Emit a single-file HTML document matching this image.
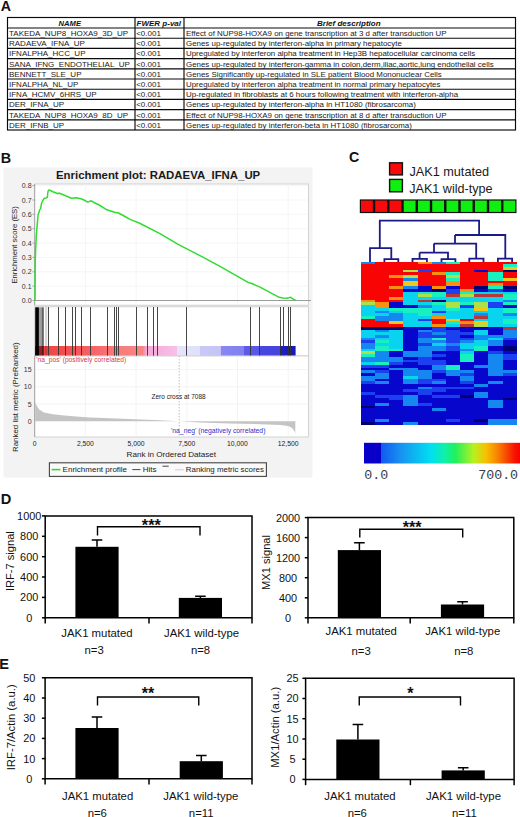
<!DOCTYPE html>
<html><head><meta charset="utf-8"><title>Figure</title>
<style>
html,body{margin:0;padding:0;background:#fff;}
body{width:520px;height:817px;overflow:hidden;}
svg{display:block;font-family:"Liberation Sans", sans-serif;}
</style></head>
<body>
<svg width="520" height="817" viewBox="0 0 520 817">
<rect x="0" y="0" width="520" height="817" fill="#fff"/>
<text x="0.85" y="11.0" font-size="14.2" font-weight="bold" fill="#111">A</text>
<g stroke="#0a0a0a" stroke-width="1.15" fill="none">
<rect x="7.5" y="17.5" width="508.0" height="112.5"/>
<line x1="7.5" y1="28.0" x2="515.5" y2="28.0"/>
<line x1="7.5" y1="38.2" x2="515.5" y2="38.2"/>
<line x1="7.5" y1="48.4" x2="515.5" y2="48.4"/>
<line x1="7.5" y1="58.6" x2="515.5" y2="58.6"/>
<line x1="7.5" y1="68.8" x2="515.5" y2="68.8"/>
<line x1="7.5" y1="79.0" x2="515.5" y2="79.0"/>
<line x1="7.5" y1="89.2" x2="515.5" y2="89.2"/>
<line x1="7.5" y1="99.4" x2="515.5" y2="99.4"/>
<line x1="7.5" y1="109.6" x2="515.5" y2="109.6"/>
<line x1="7.5" y1="119.8" x2="515.5" y2="119.8"/>
<line x1="135" y1="17.5" x2="135" y2="130.0"/>
<line x1="184" y1="17.5" x2="184" y2="130.0"/>
</g>
<g font-size="8" font-weight="bold" font-style="italic" fill="#111">
<text x="69.8" y="25.7" text-anchor="middle" font-size="7.6">NAME</text>
<text x="136.6" y="25.7">FWER p-val</text>
<text x="348.8" y="25.7" text-anchor="middle">Brief description</text>
</g>
<g font-size="8" fill="#1a1a1a">
<text x="9" y="36.0">TAKEDA_NUP8_HOXA9_3D_UP</text>
<text x="136.2" y="36.0">&lt;0.001</text>
<text x="186" y="36.0" font-size="7.92">Effect of NUP98-HOXA9 on gene transcription at 3 d after transduction UP</text>
<text x="9" y="46.2">RADAEVA_IFNA_UP</text>
<text x="136.2" y="46.2">&lt;0.001</text>
<text x="186" y="46.2" font-size="7.92">Genes up-regulated by interferon-alpha in primary hepatocyte</text>
<text x="9" y="56.4">IFNALPHA_HCC_UP</text>
<text x="136.2" y="56.4">&lt;0.001</text>
<text x="186" y="56.4" font-size="7.92">Upregulated by interferon alpha treatment in Hep3B hepatocellular carcinoma cells</text>
<text x="9" y="66.6">SANA_IFNG_ENDOTHELIAL_UP</text>
<text x="136.2" y="66.6">&lt;0.001</text>
<text x="186" y="66.6" font-size="7.92">Genes up-regulated by interferon-gamma in colon,derm,iliac,aortic,lung endothelial cells</text>
<text x="9" y="76.8">BENNETT_SLE_UP</text>
<text x="136.2" y="76.8">&lt;0.001</text>
<text x="186" y="76.8" font-size="7.92">Genes Significantly up-regulated in SLE patient Blood Mononuclear Cells</text>
<text x="9" y="87.0">IFNALPHA_NL_UP</text>
<text x="136.2" y="87.0">&lt;0.001</text>
<text x="186" y="87.0" font-size="7.92">Upregulated by interferon alpha treatment in normal primary hepatocytes</text>
<text x="9" y="97.2">IFNA_HCMV_6HRS_UP</text>
<text x="136.2" y="97.2">&lt;0.001</text>
<text x="186" y="97.2" font-size="7.92">Up-regulated in fibroblasts at 6 hours following treatment with interferon-alpha</text>
<text x="9" y="107.4">DER_IFNA_UP</text>
<text x="136.2" y="107.4">&lt;0.001</text>
<text x="186" y="107.4" font-size="7.92">Genes up-regulated by interferon-alpha in HT1080 (fibrosarcoma)</text>
<text x="9" y="117.6">TAKEDA_NUP8_HOXA9_8D_UP</text>
<text x="136.2" y="117.6">&lt;0.001</text>
<text x="186" y="117.6" font-size="7.92">Effect of NUP98-HOXA9 on gene transcription at 8 d after transduction UP</text>
<text x="9" y="127.8">DER_IFNB_UP</text>
<text x="136.2" y="127.8">&lt;0.001</text>
<text x="186" y="127.8" font-size="7.92">Genes up-regulated by interferon-beta in HT1080 (fibrosarcoma)</text>
</g>
<text x="0.7" y="162.5" font-size="14.4" font-weight="bold" fill="#111">B</text>
<rect x="3.5" y="167.5" width="309" height="310" fill="#f3f3f3"/>
<text x="56" y="178.8" font-size="11.4" font-weight="bold" fill="#1a1a1a">Enrichment plot: RADAEVA_IFNA_UP</text>
<rect x="34.7" y="184.0" width="273.7" height="121.2" fill="#fff" stroke="#c8c8c8" stroke-width="0.8"/>
<g stroke="#f2f2f2" stroke-width="0.8"><line x1="85.4" y1="184.0" x2="85.4" y2="305.2"/><line x1="136.1" y1="184.0" x2="136.1" y2="305.2"/><line x1="186.8" y1="184.0" x2="186.8" y2="305.2"/><line x1="237.5" y1="184.0" x2="237.5" y2="305.2"/><line x1="288.2" y1="184.0" x2="288.2" y2="305.2"/><line x1="34.7" y1="286.1" x2="308.4" y2="286.1"/><line x1="34.7" y1="271.8" x2="308.4" y2="271.8"/><line x1="34.7" y1="257.4" x2="308.4" y2="257.4"/><line x1="34.7" y1="243.1" x2="308.4" y2="243.1"/><line x1="34.7" y1="228.7" x2="308.4" y2="228.7"/><line x1="34.7" y1="214.3" x2="308.4" y2="214.3"/><line x1="34.7" y1="200.0" x2="308.4" y2="200.0"/><line x1="34.7" y1="185.6" x2="308.4" y2="185.6"/></g>
<line x1="34.7" y1="300.5" x2="311" y2="300.5" stroke="#909090" stroke-width="0.9"/>
<line x1="34.7" y1="184.0" x2="34.7" y2="305.2" stroke="#a0a0a0" stroke-width="0.9"/>
<g font-size="7" fill="#333" text-anchor="end">
<text x="31.6" y="303.0">0.0</text>
<text x="31.6" y="288.6">0.1</text>
<text x="31.6" y="274.3">0.2</text>
<text x="31.6" y="259.9">0.3</text>
<text x="31.6" y="245.6">0.4</text>
<text x="31.6" y="231.2">0.5</text>
<text x="31.6" y="216.8">0.6</text>
<text x="31.6" y="202.5">0.7</text>
<text x="31.6" y="188.1">0.8</text>
</g>
<g stroke="#888" stroke-width="0.7">
<line x1="32.4" y1="300.5" x2="34.7" y2="300.5"/>
<line x1="32.4" y1="286.1" x2="34.7" y2="286.1"/>
<line x1="32.4" y1="271.8" x2="34.7" y2="271.8"/>
<line x1="32.4" y1="257.4" x2="34.7" y2="257.4"/>
<line x1="32.4" y1="243.1" x2="34.7" y2="243.1"/>
<line x1="32.4" y1="228.7" x2="34.7" y2="228.7"/>
<line x1="32.4" y1="214.3" x2="34.7" y2="214.3"/>
<line x1="32.4" y1="200.0" x2="34.7" y2="200.0"/>
<line x1="32.4" y1="185.6" x2="34.7" y2="185.6"/>
</g>
<text transform="translate(16.8,244.9) rotate(-90)" font-size="7.7" fill="#222" text-anchor="middle">Enrichment score (ES)</text>
<path d="M35.0,300.5 L35.2,262.0 L35.6,250.0 L36.3,236.0 L37.2,224.6 L38.2,214.0 L38.9,212.7 L39.7,209.7 L40.6,208.8 L41.5,203.5 L42.5,201.2 L43.2,199.8 L44.4,198.3 L46.0,198.0 L47.3,197.3 L47.9,192.0 L48.4,190.4 L49.2,190.0 L53.0,191.8 L57.9,193.8 L58.8,193.0 L62.0,194.2 L65.6,195.8 L68.0,196.8 L71.3,198.3 L76.2,197.7 L81.0,198.8 L84.0,200.0 L87.7,202.1 L91.2,200.8 L95.0,203.0 L99.2,205.0 L106.9,209.8 L114.6,212.3 L118.5,213.0 L125.0,216.5 L130.0,219.4 L139.2,223.0 L160.0,233.7 L177.7,244.2 L200.0,255.6 L220.0,266.3 L248.5,282.7 L251.3,283.3 L260.0,287.1 L279.2,297.3 L283.0,298.0 L287.0,298.3 L289.0,297.8 L290.8,297.3 L293.0,299.0 L295.6,300.4" fill="none" stroke="#30dc30" stroke-width="1.5" stroke-linejoin="round"/>
<rect x="34.7" y="306.8" width="273.7" height="49.2" fill="#fff" stroke="#c8c8c8" stroke-width="0.8"/>
<defs><linearGradient id="bandg" x1="0" x2="1" y1="0" y2="0"><stop offset="0.0000" stop-color="#c83040"/><stop offset="0.0115" stop-color="#e03a3a"/><stop offset="0.0384" stop-color="#f04444"/><stop offset="0.0959" stop-color="#f24c4c"/><stop offset="0.1727" stop-color="#f45a5a"/><stop offset="0.2494" stop-color="#f66a6e"/><stop offset="0.3185" stop-color="#f87c7c"/><stop offset="0.4144" stop-color="#f88484"/><stop offset="0.4259" stop-color="#f4a8d8"/><stop offset="0.5449" stop-color="#f8c0e8"/><stop offset="0.5460" stop-color="#e4e4fa"/><stop offset="0.6332" stop-color="#e0e0fa"/><stop offset="0.6335" stop-color="#c8c8f8"/><stop offset="0.7118" stop-color="#c4c4f6"/><stop offset="0.7122" stop-color="#8888f0"/><stop offset="0.8001" stop-color="#8080f0"/><stop offset="0.8005" stop-color="#5c5ce8"/><stop offset="0.8615" stop-color="#5858e6"/><stop offset="0.8619" stop-color="#4848e0"/><stop offset="0.9386" stop-color="#4444de"/><stop offset="0.9390" stop-color="#2020c0"/><stop offset="1.0000" stop-color="#1818b8"/></linearGradient></defs>
<rect x="35.0" y="346" width="260.6" height="9.7" fill="url(#bandg)"/>
<g stroke="#333" stroke-opacity="0.9" stroke-width="1" shape-rendering="crispEdges"><line x1="48.5" y1="307.3" x2="48.5" y2="355.7"/><line x1="58.5" y1="307.3" x2="58.5" y2="355.7"/><line x1="65.5" y1="307.3" x2="65.5" y2="355.7"/><line x1="72.5" y1="307.3" x2="72.5" y2="355.7"/><line x1="75.5" y1="307.3" x2="75.5" y2="355.7"/><line x1="81.5" y1="307.3" x2="81.5" y2="355.7"/><line x1="90.5" y1="307.3" x2="90.5" y2="355.7"/><line x1="107.5" y1="307.3" x2="107.5" y2="355.7"/><line x1="114.5" y1="307.3" x2="114.5" y2="355.7"/><line x1="116.5" y1="307.3" x2="116.5" y2="355.7"/><line x1="118.5" y1="307.3" x2="118.5" y2="355.7"/><line x1="136.5" y1="307.3" x2="136.5" y2="355.7"/><line x1="147.5" y1="307.3" x2="147.5" y2="355.7"/><line x1="153.5" y1="307.3" x2="153.5" y2="355.7"/><line x1="157.5" y1="307.3" x2="157.5" y2="355.7"/><line x1="186.5" y1="307.3" x2="186.5" y2="355.7"/><line x1="250.5" y1="307.3" x2="250.5" y2="355.7"/><line x1="259.5" y1="307.3" x2="259.5" y2="355.7"/><line x1="280.5" y1="307.3" x2="280.5" y2="355.7"/><line x1="283.5" y1="307.3" x2="283.5" y2="355.7"/><line x1="288.5" y1="307.3" x2="288.5" y2="355.7"/><line x1="290.5" y1="307.3" x2="290.5" y2="355.7"/></g>
<rect x="35.2" y="307.3" width="3.7" height="48.4" fill="#000"/>
<rect x="38.9" y="307.3" width="2.9" height="48.4" fill="#000" fill-opacity="0.38"/>
<rect x="41.8" y="307.3" width="2.0" height="48.4" fill="#000" fill-opacity="0.62"/>
<rect x="45" y="307.3" width="2.3" height="48.4" fill="#000" fill-opacity="0.15"/>
<rect x="34.7" y="356.0" width="273.7" height="81.0" fill="#fff" stroke="#c8c8c8" stroke-width="0.8"/>
<g stroke="#f0f0f0" stroke-width="0.8"><line x1="85.4" y1="356.0" x2="85.4" y2="437.0"/><line x1="136.1" y1="356.0" x2="136.1" y2="437.0"/><line x1="186.8" y1="356.0" x2="186.8" y2="437.0"/><line x1="237.5" y1="356.0" x2="237.5" y2="437.0"/><line x1="288.2" y1="356.0" x2="288.2" y2="437.0"/><line x1="34.7" y1="404.0" x2="308.4" y2="404.0"/><line x1="34.7" y1="386.8" x2="308.4" y2="386.8"/><line x1="34.7" y1="369.6" x2="308.4" y2="369.6"/></g>
<line x1="34.7" y1="356.0" x2="34.7" y2="437.0" stroke="#a0a0a0" stroke-width="0.9"/>
<path d="M35.2,421.2 L35.2,402.3 L35.8,403.6 L36.9,406.1 L39.2,409.6 L43.8,412.5 L53,414.2 L64.6,415.6 L76.1,416.5 L90,417.5 L110,418.3 L135,419.2 L160,420.3 L179.2,421.2 Z" fill="#c4c4c4"/>
<path d="M179.2,421.2 L200,422.5 L230,423.4 L260,424.2 L280,425.1 L288,426.0 L291,427.2 L293,429 L294.5,431.5 L295.2,433.5 L295.4,421.2 Z" fill="#c4c4c4"/>
<line x1="179.2" y1="356.0" x2="179.2" y2="437.0" stroke="#b0b0b0" stroke-width="0.8" stroke-dasharray="1.5,1.5"/>
<g font-size="7" fill="#333" text-anchor="end">
<text x="31.6" y="372.1">15</text>
<text x="31.6" y="389.3">10</text>
<text x="31.6" y="406.5">5</text>
<text x="31.6" y="423.7">0</text>
</g>
<text x="36.3" y="362.3" font-size="6.7" fill="#e03838">'na_pos' (positively correlated)</text>
<text x="151.5" y="398.8" font-size="6.5" fill="#222">Zero cross at 7088</text>
<text x="171" y="433.3" font-size="6.8" fill="#3030c8">'na_neg' (negatively correlated)</text>
<text transform="translate(18.2,397.2) rotate(-90)" font-size="7.9" fill="#222" text-anchor="middle">Ranked list metric (PreRanked)</text>
<g font-size="6.8" fill="#222" text-anchor="middle">
<text x="34.7" y="445.8">0</text>
<text x="85.4" y="445.8">2,500</text>
<text x="136.1" y="445.8">5,000</text>
<text x="186.8" y="445.8">7,500</text>
<text x="237.5" y="445.8">10,000</text>
<text x="288.2" y="445.8">12,500</text>
</g>
<text x="171.3" y="456.5" font-size="8.1" fill="#222" text-anchor="middle">Rank in Ordered Dataset</text>
<rect x="49.4" y="462.8" width="217" height="13.6" fill="#fafafa" stroke="#444" stroke-width="1.1"/>
<line x1="51.6" y1="469.6" x2="60.4" y2="469.6" stroke="#30dc30" stroke-width="1.6"/>
<text x="62.6" y="472.3" font-size="8" fill="#222">Enrichment profile</text>
<line x1="132.3" y1="469.6" x2="140.4" y2="469.6" stroke="#333" stroke-width="0.9"/>
<text x="142.7" y="472.3" font-size="8" fill="#222">Hits</text>
<line x1="162.5" y1="466.2" x2="168.7" y2="466.2" stroke="#333" stroke-width="0.9"/>
<line x1="175" y1="469.8" x2="183.7" y2="469.8" stroke="#ccc" stroke-width="1"/>
<text x="185.8" y="472.3" font-size="7.9" fill="#222">Ranking metric scores</text>
<text x="349.1" y="162.3" font-size="14.2" font-weight="bold" fill="#111">C</text>
<rect x="389.6" y="162.8" width="12.8" height="12.1" fill="#f80a0a" stroke="#111" stroke-width="1.4"/>
<rect x="389.6" y="179.4" width="12.8" height="12.4" fill="#10f010" stroke="#111" stroke-width="1.4"/>
<text x="409.4" y="175.7" font-size="12.7" fill="#1a1a1a">JAK1 mutated</text>
<text x="409.2" y="192.8" font-size="12.6" fill="#1a1a1a">JAK1 wild-type</text>
<rect x="359.8" y="199.4" width="156.7" height="13.7" fill="#111"/>
<rect x="361.00" y="200.6" width="11.85" height="11.3" fill="#f80a0a"/>
<rect x="375.25" y="200.6" width="11.85" height="11.3" fill="#f80a0a"/>
<rect x="389.49" y="200.6" width="11.85" height="11.3" fill="#f80a0a"/>
<rect x="403.74" y="200.6" width="11.85" height="11.3" fill="#10f010"/>
<rect x="417.98" y="200.6" width="11.85" height="11.3" fill="#10f010"/>
<rect x="432.22" y="200.6" width="11.85" height="11.3" fill="#10f010"/>
<rect x="446.47" y="200.6" width="11.85" height="11.3" fill="#10f010"/>
<rect x="460.71" y="200.6" width="11.85" height="11.3" fill="#10f010"/>
<rect x="474.96" y="200.6" width="11.85" height="11.3" fill="#10f010"/>
<rect x="489.20" y="200.6" width="11.85" height="11.3" fill="#10f010"/>
<rect x="503.45" y="200.6" width="11.85" height="11.3" fill="#10f010"/>
<g fill="none" stroke="#1a1a88" stroke-width="1.8"><path d="M379.8,248.2 V220.7 H479.1 V235"/><path d="M370,262 V248.2 H391.3 V259.1"/><path d="M384.4,262 V259.1 H398.3 V262"/><path d="M455,235 H505.3 V258.6"/><path d="M455,235 V243.6"/><path d="M434,243.6 H476.2 V258.6"/><path d="M434,243.6 V252.6"/><path d="M419.6,252.6 H448 V259.1"/><path d="M419.6,252.6 V258.8"/><path d="M412.5,262 V258.8 H426.9 V262"/><path d="M441.5,262 V259.1 H455.4 V262"/><path d="M469.3,262 V258.6 H483.5 V262"/><path d="M497.9,262 V258.6 H512.1 V262"/></g>
<g shape-rendering="crispEdges"><rect x="361.00" y="261.60" width="14.45" height="3.02" fill="#1488f0"/><rect x="375.15" y="261.60" width="42.76" height="3.02" fill="#f80404"/><rect x="417.62" y="261.60" width="14.45" height="3.02" fill="#f89010"/><rect x="431.77" y="261.60" width="14.45" height="3.02" fill="#1488f0"/><rect x="445.93" y="261.60" width="14.45" height="3.02" fill="#18f0c0"/><rect x="460.08" y="261.60" width="56.92" height="3.02" fill="#f80404"/><rect x="361.00" y="264.32" width="141.85" height="3.02" fill="#f80404"/><rect x="502.55" y="264.32" width="14.45" height="3.02" fill="#18f0c0"/><rect x="361.00" y="267.04" width="141.85" height="3.02" fill="#f80404"/><rect x="502.55" y="267.04" width="14.45" height="3.02" fill="#f0c818"/><rect x="361.00" y="269.76" width="42.76" height="3.02" fill="#f80404"/><rect x="403.46" y="269.76" width="14.45" height="3.02" fill="#b0e048"/><rect x="417.62" y="269.76" width="14.45" height="3.02" fill="#1c40f0"/><rect x="431.77" y="269.76" width="42.76" height="3.02" fill="#f80404"/><rect x="474.24" y="269.76" width="14.45" height="3.02" fill="#0606cc"/><rect x="488.39" y="269.76" width="14.45" height="3.02" fill="#f80404"/><rect x="502.55" y="269.76" width="14.45" height="3.02" fill="#000070"/><rect x="361.00" y="272.48" width="71.07" height="3.02" fill="#f80404"/><rect x="431.77" y="272.48" width="14.45" height="3.02" fill="#f89010"/><rect x="445.93" y="272.48" width="14.45" height="3.02" fill="#18f0c0"/><rect x="460.08" y="272.48" width="28.61" height="3.02" fill="#f80404"/><rect x="488.39" y="272.48" width="14.45" height="3.02" fill="#18f0c0"/><rect x="502.55" y="272.48" width="14.45" height="3.02" fill="#f80404"/><rect x="361.00" y="275.20" width="28.61" height="3.02" fill="#f80404"/><rect x="389.31" y="275.20" width="14.45" height="3.02" fill="#f89010"/><rect x="403.46" y="275.20" width="14.45" height="3.02" fill="#b0e048"/><rect x="417.62" y="275.20" width="28.61" height="3.02" fill="#f80404"/><rect x="445.93" y="275.20" width="14.45" height="3.02" fill="#b0e048"/><rect x="460.08" y="275.20" width="28.61" height="3.02" fill="#f80404"/><rect x="488.39" y="275.20" width="14.45" height="3.02" fill="#18f0c0"/><rect x="502.55" y="275.20" width="14.45" height="3.02" fill="#f80404"/><rect x="361.00" y="277.92" width="42.76" height="3.02" fill="#f80404"/><rect x="403.46" y="277.92" width="14.45" height="3.02" fill="#1488f0"/><rect x="417.62" y="277.92" width="28.61" height="3.02" fill="#f80404"/><rect x="445.93" y="277.92" width="14.45" height="3.02" fill="#18f0c0"/><rect x="460.08" y="277.92" width="28.61" height="3.02" fill="#f80404"/><rect x="488.39" y="277.92" width="14.45" height="3.02" fill="#18f0c0"/><rect x="502.55" y="277.92" width="14.45" height="3.02" fill="#f0c818"/><rect x="361.00" y="280.64" width="42.76" height="3.02" fill="#f80404"/><rect x="403.46" y="280.64" width="14.45" height="3.02" fill="#f0c818"/><rect x="417.62" y="280.64" width="28.61" height="3.02" fill="#f80404"/><rect x="445.93" y="280.64" width="14.45" height="3.02" fill="#f89010"/><rect x="460.08" y="280.64" width="56.92" height="3.02" fill="#f80404"/><rect x="361.00" y="283.36" width="42.76" height="3.02" fill="#f80404"/><rect x="403.46" y="283.36" width="14.45" height="3.02" fill="#f0c818"/><rect x="417.62" y="283.36" width="28.61" height="3.02" fill="#f80404"/><rect x="445.93" y="283.36" width="14.45" height="3.02" fill="#f89010"/><rect x="460.08" y="283.36" width="28.61" height="3.02" fill="#f80404"/><rect x="488.39" y="283.36" width="14.45" height="3.02" fill="#f89010"/><rect x="502.55" y="283.36" width="14.45" height="3.02" fill="#f80404"/><rect x="361.00" y="286.08" width="28.61" height="3.02" fill="#f80404"/><rect x="389.31" y="286.08" width="14.45" height="3.02" fill="#f89010"/><rect x="403.46" y="286.08" width="14.45" height="3.02" fill="#1488f0"/><rect x="417.62" y="286.08" width="14.45" height="3.02" fill="#0606cc"/><rect x="431.77" y="286.08" width="14.45" height="3.02" fill="#f89010"/><rect x="445.93" y="286.08" width="14.45" height="3.02" fill="#0606cc"/><rect x="460.08" y="286.08" width="14.45" height="3.02" fill="#f80404"/><rect x="474.24" y="286.08" width="14.45" height="3.02" fill="#000070"/><rect x="488.39" y="286.08" width="14.45" height="3.02" fill="#18f0c0"/><rect x="502.55" y="286.08" width="14.45" height="3.02" fill="#000070"/><rect x="361.00" y="288.80" width="42.76" height="3.02" fill="#f80404"/><rect x="403.46" y="288.80" width="28.61" height="3.02" fill="#0606cc"/><rect x="431.77" y="288.80" width="14.45" height="3.02" fill="#000070"/><rect x="445.93" y="288.80" width="14.45" height="3.02" fill="#1c40f0"/><rect x="460.08" y="288.80" width="14.45" height="3.02" fill="#f89010"/><rect x="474.24" y="288.80" width="14.45" height="3.02" fill="#0606cc"/><rect x="488.39" y="288.80" width="14.45" height="3.02" fill="#1c40f0"/><rect x="502.55" y="288.80" width="14.45" height="3.02" fill="#0606cc"/><rect x="361.00" y="291.52" width="42.76" height="3.02" fill="#f80404"/><rect x="403.46" y="291.52" width="14.45" height="3.02" fill="#08d4f0"/><rect x="417.62" y="291.52" width="28.61" height="3.02" fill="#18f0c0"/><rect x="445.93" y="291.52" width="14.45" height="3.02" fill="#1c40f0"/><rect x="460.08" y="291.52" width="14.45" height="3.02" fill="#18f0c0"/><rect x="474.24" y="291.52" width="42.76" height="3.02" fill="#08d4f0"/><rect x="361.00" y="294.24" width="42.76" height="3.02" fill="#f80404"/><rect x="403.46" y="294.24" width="14.45" height="3.02" fill="#08d4f0"/><rect x="417.62" y="294.24" width="14.45" height="3.02" fill="#b0e048"/><rect x="431.77" y="294.24" width="14.45" height="3.02" fill="#18f0c0"/><rect x="445.93" y="294.24" width="14.45" height="3.02" fill="#b83838"/><rect x="460.08" y="294.24" width="14.45" height="3.02" fill="#b0e048"/><rect x="474.24" y="294.24" width="28.61" height="3.02" fill="#b83838"/><rect x="502.55" y="294.24" width="14.45" height="3.02" fill="#18f0c0"/><rect x="361.00" y="296.96" width="28.61" height="3.02" fill="#f80404"/><rect x="389.31" y="296.96" width="14.45" height="3.02" fill="#f89010"/><rect x="403.46" y="296.96" width="99.38" height="3.02" fill="#08d4f0"/><rect x="502.55" y="296.96" width="14.45" height="3.02" fill="#18f0c0"/><rect x="361.00" y="299.68" width="14.45" height="3.02" fill="#f89010"/><rect x="375.15" y="299.68" width="28.61" height="3.02" fill="#f80404"/><rect x="403.46" y="299.68" width="14.45" height="3.02" fill="#08d4f0"/><rect x="417.62" y="299.68" width="14.45" height="3.02" fill="#b83838"/><rect x="431.77" y="299.68" width="14.45" height="3.02" fill="#000070"/><rect x="445.93" y="299.68" width="56.92" height="3.02" fill="#08d4f0"/><rect x="502.55" y="299.68" width="14.45" height="3.02" fill="#1488f0"/><rect x="361.00" y="302.40" width="14.45" height="3.02" fill="#b0e048"/><rect x="375.15" y="302.40" width="14.45" height="3.02" fill="#f89010"/><rect x="389.31" y="302.40" width="14.45" height="3.02" fill="#0606cc"/><rect x="403.46" y="302.40" width="28.61" height="3.02" fill="#08d4f0"/><rect x="431.77" y="302.40" width="14.45" height="3.02" fill="#18f0c0"/><rect x="445.93" y="302.40" width="14.45" height="3.02" fill="#b0e048"/><rect x="460.08" y="302.40" width="14.45" height="3.02" fill="#18f0c0"/><rect x="474.24" y="302.40" width="14.45" height="3.02" fill="#b0e048"/><rect x="488.39" y="302.40" width="14.45" height="3.02" fill="#1c40f0"/><rect x="502.55" y="302.40" width="14.45" height="3.02" fill="#18f0c0"/><rect x="361.00" y="305.12" width="14.45" height="3.02" fill="#08d4f0"/><rect x="375.15" y="305.12" width="14.45" height="3.02" fill="#f89010"/><rect x="389.31" y="305.12" width="28.61" height="3.02" fill="#0606cc"/><rect x="417.62" y="305.12" width="14.45" height="3.02" fill="#1488f0"/><rect x="431.77" y="305.12" width="14.45" height="3.02" fill="#08d4f0"/><rect x="445.93" y="305.12" width="14.45" height="3.02" fill="#b0e048"/><rect x="460.08" y="305.12" width="14.45" height="3.02" fill="#1c40f0"/><rect x="474.24" y="305.12" width="14.45" height="3.02" fill="#b0e048"/><rect x="488.39" y="305.12" width="14.45" height="3.02" fill="#1c40f0"/><rect x="502.55" y="305.12" width="14.45" height="3.02" fill="#0606cc"/><rect x="361.00" y="307.84" width="28.61" height="3.02" fill="#08d4f0"/><rect x="389.31" y="307.84" width="42.76" height="3.02" fill="#18f0c0"/><rect x="431.77" y="307.84" width="14.45" height="3.02" fill="#08d4f0"/><rect x="445.93" y="307.84" width="14.45" height="3.02" fill="#18f0c0"/><rect x="460.08" y="307.84" width="14.45" height="3.02" fill="#08d4f0"/><rect x="474.24" y="307.84" width="14.45" height="3.02" fill="#f0c818"/><rect x="488.39" y="307.84" width="14.45" height="3.02" fill="#08d4f0"/><rect x="502.55" y="307.84" width="14.45" height="3.02" fill="#18f0c0"/><rect x="361.00" y="310.56" width="14.45" height="3.02" fill="#08d4f0"/><rect x="375.15" y="310.56" width="14.45" height="3.02" fill="#1488f0"/><rect x="389.31" y="310.56" width="14.45" height="3.02" fill="#08d4f0"/><rect x="403.46" y="310.56" width="28.61" height="3.02" fill="#18f0c0"/><rect x="431.77" y="310.56" width="14.45" height="3.02" fill="#1c40f0"/><rect x="445.93" y="310.56" width="56.92" height="3.02" fill="#08d4f0"/><rect x="502.55" y="310.56" width="14.45" height="3.02" fill="#18f0c0"/><rect x="361.00" y="313.28" width="28.61" height="3.02" fill="#08d4f0"/><rect x="389.31" y="313.28" width="14.45" height="3.02" fill="#1488f0"/><rect x="403.46" y="313.28" width="14.45" height="3.02" fill="#08d4f0"/><rect x="417.62" y="313.28" width="14.45" height="3.02" fill="#18f0c0"/><rect x="431.77" y="313.28" width="42.76" height="3.02" fill="#08d4f0"/><rect x="474.24" y="313.28" width="14.45" height="3.02" fill="#1488f0"/><rect x="488.39" y="313.28" width="14.45" height="3.02" fill="#08d4f0"/><rect x="502.55" y="313.28" width="14.45" height="3.02" fill="#1488f0"/><rect x="361.00" y="316.00" width="14.45" height="3.02" fill="#18f0c0"/><rect x="375.15" y="316.00" width="28.61" height="3.02" fill="#1488f0"/><rect x="403.46" y="316.00" width="28.61" height="3.02" fill="#08d4f0"/><rect x="431.77" y="316.00" width="14.45" height="3.02" fill="#f89010"/><rect x="445.93" y="316.00" width="28.61" height="3.02" fill="#08d4f0"/><rect x="474.24" y="316.00" width="14.45" height="3.02" fill="#b83838"/><rect x="488.39" y="316.00" width="28.61" height="3.02" fill="#08d4f0"/><rect x="361.00" y="318.72" width="14.45" height="3.02" fill="#f80404"/><rect x="375.15" y="318.72" width="28.61" height="3.02" fill="#1488f0"/><rect x="403.46" y="318.72" width="14.45" height="3.02" fill="#08d4f0"/><rect x="417.62" y="318.72" width="14.45" height="3.02" fill="#1c40f0"/><rect x="431.77" y="318.72" width="14.45" height="3.02" fill="#f80404"/><rect x="445.93" y="318.72" width="14.45" height="3.02" fill="#f0c818"/><rect x="460.08" y="318.72" width="14.45" height="3.02" fill="#f80404"/><rect x="474.24" y="318.72" width="28.61" height="3.02" fill="#08d4f0"/><rect x="502.55" y="318.72" width="14.45" height="3.02" fill="#18f0c0"/><rect x="361.00" y="321.44" width="28.61" height="3.02" fill="#f80404"/><rect x="389.31" y="321.44" width="14.45" height="3.02" fill="#f0c818"/><rect x="403.46" y="321.44" width="28.61" height="3.02" fill="#08d4f0"/><rect x="431.77" y="321.44" width="14.45" height="3.02" fill="#f80404"/><rect x="445.93" y="321.44" width="14.45" height="3.02" fill="#18f0c0"/><rect x="460.08" y="321.44" width="14.45" height="3.02" fill="#f89010"/><rect x="474.24" y="321.44" width="14.45" height="3.02" fill="#f0c818"/><rect x="488.39" y="321.44" width="14.45" height="3.02" fill="#08d4f0"/><rect x="502.55" y="321.44" width="14.45" height="3.02" fill="#18f0c0"/><rect x="361.00" y="324.16" width="42.76" height="3.02" fill="#f80404"/><rect x="403.46" y="324.16" width="28.61" height="3.02" fill="#08d4f0"/><rect x="431.77" y="324.16" width="14.45" height="3.02" fill="#f89010"/><rect x="445.93" y="324.16" width="14.45" height="3.02" fill="#08d4f0"/><rect x="460.08" y="324.16" width="14.45" height="3.02" fill="#b83838"/><rect x="474.24" y="324.16" width="14.45" height="3.02" fill="#b0e048"/><rect x="488.39" y="324.16" width="28.61" height="3.02" fill="#08d4f0"/><rect x="361.00" y="326.88" width="42.76" height="3.02" fill="#000070"/><rect x="403.46" y="326.88" width="28.61" height="3.02" fill="#0606cc"/><rect x="431.77" y="326.88" width="14.45" height="3.02" fill="#1c40f0"/><rect x="445.93" y="326.88" width="56.92" height="3.02" fill="#0606cc"/><rect x="502.55" y="326.88" width="14.45" height="3.02" fill="#b83838"/><rect x="361.00" y="329.60" width="14.45" height="3.02" fill="#08d4f0"/><rect x="375.15" y="329.60" width="14.45" height="3.02" fill="#1488f0"/><rect x="389.31" y="329.60" width="14.45" height="3.02" fill="#08d4f0"/><rect x="403.46" y="329.60" width="14.45" height="3.02" fill="#0606cc"/><rect x="417.62" y="329.60" width="14.45" height="3.02" fill="#1488f0"/><rect x="431.77" y="329.60" width="28.61" height="3.02" fill="#1c40f0"/><rect x="460.08" y="329.60" width="14.45" height="3.02" fill="#0606cc"/><rect x="474.24" y="329.60" width="14.45" height="3.02" fill="#08d4f0"/><rect x="488.39" y="329.60" width="14.45" height="3.02" fill="#0606cc"/><rect x="502.55" y="329.60" width="14.45" height="3.02" fill="#1488f0"/><rect x="361.00" y="332.32" width="42.76" height="3.02" fill="#08d4f0"/><rect x="403.46" y="332.32" width="14.45" height="3.02" fill="#0606cc"/><rect x="417.62" y="332.32" width="14.45" height="3.02" fill="#1c40f0"/><rect x="431.77" y="332.32" width="14.45" height="3.02" fill="#1488f0"/><rect x="445.93" y="332.32" width="28.61" height="3.02" fill="#1c40f0"/><rect x="474.24" y="332.32" width="14.45" height="3.02" fill="#08d4f0"/><rect x="488.39" y="332.32" width="14.45" height="3.02" fill="#0606cc"/><rect x="502.55" y="332.32" width="14.45" height="3.02" fill="#1488f0"/><rect x="361.00" y="335.04" width="14.45" height="3.02" fill="#08d4f0"/><rect x="375.15" y="335.04" width="14.45" height="3.02" fill="#1488f0"/><rect x="389.31" y="335.04" width="14.45" height="3.02" fill="#08d4f0"/><rect x="403.46" y="335.04" width="14.45" height="3.02" fill="#0606cc"/><rect x="417.62" y="335.04" width="42.76" height="3.02" fill="#1c40f0"/><rect x="460.08" y="335.04" width="14.45" height="3.02" fill="#0606cc"/><rect x="474.24" y="335.04" width="42.76" height="3.02" fill="#1488f0"/><rect x="361.00" y="337.76" width="14.45" height="3.02" fill="#1488f0"/><rect x="375.15" y="337.76" width="28.61" height="3.02" fill="#08d4f0"/><rect x="403.46" y="337.76" width="14.45" height="3.02" fill="#0606cc"/><rect x="417.62" y="337.76" width="14.45" height="3.02" fill="#1488f0"/><rect x="431.77" y="337.76" width="14.45" height="3.02" fill="#18f0c0"/><rect x="445.93" y="337.76" width="28.61" height="3.02" fill="#1c40f0"/><rect x="474.24" y="337.76" width="14.45" height="3.02" fill="#1488f0"/><rect x="488.39" y="337.76" width="14.45" height="3.02" fill="#08d4f0"/><rect x="502.55" y="337.76" width="14.45" height="3.02" fill="#1c40f0"/><rect x="361.00" y="340.48" width="14.45" height="3.02" fill="#1c40f0"/><rect x="375.15" y="340.48" width="14.45" height="3.02" fill="#18f0c0"/><rect x="389.31" y="340.48" width="14.45" height="3.02" fill="#08d4f0"/><rect x="403.46" y="340.48" width="14.45" height="3.02" fill="#0606cc"/><rect x="417.62" y="340.48" width="28.61" height="3.02" fill="#1488f0"/><rect x="445.93" y="340.48" width="14.45" height="3.02" fill="#1c40f0"/><rect x="460.08" y="340.48" width="14.45" height="3.02" fill="#1488f0"/><rect x="474.24" y="340.48" width="14.45" height="3.02" fill="#08d4f0"/><rect x="488.39" y="340.48" width="14.45" height="3.02" fill="#1488f0"/><rect x="502.55" y="340.48" width="14.45" height="3.02" fill="#0606cc"/><rect x="361.00" y="343.20" width="14.45" height="3.02" fill="#1488f0"/><rect x="375.15" y="343.20" width="28.61" height="3.02" fill="#08d4f0"/><rect x="403.46" y="343.20" width="14.45" height="3.02" fill="#0606cc"/><rect x="417.62" y="343.20" width="14.45" height="3.02" fill="#1c40f0"/><rect x="431.77" y="343.20" width="14.45" height="3.02" fill="#08d4f0"/><rect x="445.93" y="343.20" width="14.45" height="3.02" fill="#1488f0"/><rect x="460.08" y="343.20" width="28.61" height="3.02" fill="#08d4f0"/><rect x="488.39" y="343.20" width="14.45" height="3.02" fill="#1488f0"/><rect x="502.55" y="343.20" width="14.45" height="3.02" fill="#0606cc"/><rect x="361.00" y="345.92" width="14.45" height="3.02" fill="#1488f0"/><rect x="375.15" y="345.92" width="14.45" height="3.02" fill="#18f0c0"/><rect x="389.31" y="345.92" width="14.45" height="3.02" fill="#08d4f0"/><rect x="403.46" y="345.92" width="14.45" height="3.02" fill="#0606cc"/><rect x="417.62" y="345.92" width="28.61" height="3.02" fill="#1488f0"/><rect x="445.93" y="345.92" width="14.45" height="3.02" fill="#1c40f0"/><rect x="460.08" y="345.92" width="14.45" height="3.02" fill="#08d4f0"/><rect x="474.24" y="345.92" width="14.45" height="3.02" fill="#18f0c0"/><rect x="488.39" y="345.92" width="14.45" height="3.02" fill="#0606cc"/><rect x="502.55" y="345.92" width="14.45" height="3.02" fill="#000070"/><rect x="361.00" y="348.64" width="14.45" height="3.02" fill="#08d4f0"/><rect x="375.15" y="348.64" width="28.61" height="3.02" fill="#18f0c0"/><rect x="403.46" y="348.64" width="14.45" height="3.02" fill="#0606cc"/><rect x="417.62" y="348.64" width="28.61" height="3.02" fill="#1488f0"/><rect x="445.93" y="348.64" width="14.45" height="3.02" fill="#1c40f0"/><rect x="460.08" y="348.64" width="14.45" height="3.02" fill="#1488f0"/><rect x="474.24" y="348.64" width="14.45" height="3.02" fill="#18f0c0"/><rect x="488.39" y="348.64" width="14.45" height="3.02" fill="#0606cc"/><rect x="502.55" y="348.64" width="14.45" height="3.02" fill="#000070"/><rect x="361.00" y="351.36" width="14.45" height="3.02" fill="#b0e048"/><rect x="375.15" y="351.36" width="14.45" height="3.02" fill="#1488f0"/><rect x="389.31" y="351.36" width="14.45" height="3.02" fill="#0606cc"/><rect x="403.46" y="351.36" width="28.61" height="3.02" fill="#1488f0"/><rect x="431.77" y="351.36" width="28.61" height="3.02" fill="#0606cc"/><rect x="460.08" y="351.36" width="14.45" height="3.02" fill="#08d4f0"/><rect x="474.24" y="351.36" width="14.45" height="3.02" fill="#0606cc"/><rect x="488.39" y="351.36" width="14.45" height="3.02" fill="#1c40f0"/><rect x="502.55" y="351.36" width="14.45" height="3.02" fill="#0606cc"/><rect x="361.00" y="354.08" width="14.45" height="3.02" fill="#18f0c0"/><rect x="375.15" y="354.08" width="14.45" height="3.02" fill="#1488f0"/><rect x="389.31" y="354.08" width="14.45" height="3.02" fill="#0606cc"/><rect x="403.46" y="354.08" width="28.61" height="3.02" fill="#1488f0"/><rect x="431.77" y="354.08" width="14.45" height="3.02" fill="#1c40f0"/><rect x="445.93" y="354.08" width="14.45" height="3.02" fill="#0606cc"/><rect x="460.08" y="354.08" width="14.45" height="3.02" fill="#18f0c0"/><rect x="474.24" y="354.08" width="14.45" height="3.02" fill="#0606cc"/><rect x="488.39" y="354.08" width="14.45" height="3.02" fill="#1488f0"/><rect x="502.55" y="354.08" width="14.45" height="3.02" fill="#1c40f0"/><rect x="361.00" y="356.80" width="42.76" height="3.02" fill="#1488f0"/><rect x="403.46" y="356.80" width="14.45" height="3.02" fill="#0606cc"/><rect x="417.62" y="356.80" width="14.45" height="3.02" fill="#1c40f0"/><rect x="431.77" y="356.80" width="28.61" height="3.02" fill="#0606cc"/><rect x="460.08" y="356.80" width="14.45" height="3.02" fill="#18f0c0"/><rect x="474.24" y="356.80" width="14.45" height="3.02" fill="#0606cc"/><rect x="488.39" y="356.80" width="14.45" height="3.02" fill="#1488f0"/><rect x="502.55" y="356.80" width="14.45" height="3.02" fill="#1c40f0"/><rect x="361.00" y="359.52" width="42.76" height="3.02" fill="#1488f0"/><rect x="403.46" y="359.52" width="42.76" height="3.02" fill="#1c40f0"/><rect x="445.93" y="359.52" width="14.45" height="3.02" fill="#0606cc"/><rect x="460.08" y="359.52" width="14.45" height="3.02" fill="#18f0c0"/><rect x="474.24" y="359.52" width="14.45" height="3.02" fill="#0606cc"/><rect x="488.39" y="359.52" width="14.45" height="3.02" fill="#1488f0"/><rect x="502.55" y="359.52" width="14.45" height="3.02" fill="#0606cc"/><rect x="361.00" y="362.24" width="14.45" height="3.02" fill="#08d4f0"/><rect x="375.15" y="362.24" width="14.45" height="3.02" fill="#18f0c0"/><rect x="389.31" y="362.24" width="14.45" height="3.02" fill="#1c40f0"/><rect x="403.46" y="362.24" width="14.45" height="3.02" fill="#0606cc"/><rect x="417.62" y="362.24" width="28.61" height="3.02" fill="#1c40f0"/><rect x="445.93" y="362.24" width="42.76" height="3.02" fill="#0606cc"/><rect x="488.39" y="362.24" width="14.45" height="3.02" fill="#1488f0"/><rect x="502.55" y="362.24" width="14.45" height="3.02" fill="#0606cc"/><rect x="361.00" y="364.96" width="28.61" height="3.02" fill="#1c40f0"/><rect x="389.31" y="364.96" width="42.76" height="3.02" fill="#0606cc"/><rect x="431.77" y="364.96" width="14.45" height="3.02" fill="#1488f0"/><rect x="445.93" y="364.96" width="14.45" height="3.02" fill="#18f0c0"/><rect x="460.08" y="364.96" width="14.45" height="3.02" fill="#0606cc"/><rect x="474.24" y="364.96" width="28.61" height="3.02" fill="#1488f0"/><rect x="502.55" y="364.96" width="14.45" height="3.02" fill="#0606cc"/><rect x="361.00" y="367.68" width="28.61" height="3.02" fill="#0606cc"/><rect x="389.31" y="367.68" width="28.61" height="3.02" fill="#1488f0"/><rect x="417.62" y="367.68" width="14.45" height="3.02" fill="#0606cc"/><rect x="431.77" y="367.68" width="14.45" height="3.02" fill="#1488f0"/><rect x="445.93" y="367.68" width="14.45" height="3.02" fill="#18f0c0"/><rect x="460.08" y="367.68" width="28.61" height="3.02" fill="#0606cc"/><rect x="488.39" y="367.68" width="14.45" height="3.02" fill="#1488f0"/><rect x="502.55" y="367.68" width="14.45" height="3.02" fill="#0606cc"/><rect x="361.00" y="370.40" width="14.45" height="3.02" fill="#1488f0"/><rect x="375.15" y="370.40" width="14.45" height="3.02" fill="#1c40f0"/><rect x="389.31" y="370.40" width="14.45" height="3.02" fill="#0606cc"/><rect x="403.46" y="370.40" width="28.61" height="3.02" fill="#1488f0"/><rect x="431.77" y="370.40" width="14.45" height="3.02" fill="#1c40f0"/><rect x="445.93" y="370.40" width="28.61" height="3.02" fill="#1488f0"/><rect x="474.24" y="370.40" width="14.45" height="3.02" fill="#0606cc"/><rect x="488.39" y="370.40" width="28.61" height="3.02" fill="#1488f0"/><rect x="361.00" y="373.12" width="14.45" height="3.02" fill="#0606cc"/><rect x="375.15" y="373.12" width="14.45" height="3.02" fill="#1488f0"/><rect x="389.31" y="373.12" width="14.45" height="3.02" fill="#0606cc"/><rect x="403.46" y="373.12" width="28.61" height="3.02" fill="#1488f0"/><rect x="431.77" y="373.12" width="14.45" height="3.02" fill="#0606cc"/><rect x="445.93" y="373.12" width="14.45" height="3.02" fill="#1488f0"/><rect x="460.08" y="373.12" width="14.45" height="3.02" fill="#1c40f0"/><rect x="474.24" y="373.12" width="14.45" height="3.02" fill="#0606cc"/><rect x="488.39" y="373.12" width="14.45" height="3.02" fill="#1488f0"/><rect x="502.55" y="373.12" width="14.45" height="3.02" fill="#1c40f0"/><rect x="361.00" y="375.84" width="28.61" height="3.02" fill="#1488f0"/><rect x="389.31" y="375.84" width="14.45" height="3.02" fill="#0606cc"/><rect x="403.46" y="375.84" width="14.45" height="3.02" fill="#08d4f0"/><rect x="417.62" y="375.84" width="14.45" height="3.02" fill="#1488f0"/><rect x="431.77" y="375.84" width="28.61" height="3.02" fill="#0606cc"/><rect x="460.08" y="375.84" width="14.45" height="3.02" fill="#1488f0"/><rect x="474.24" y="375.84" width="42.76" height="3.02" fill="#0606cc"/><rect x="361.00" y="378.56" width="14.45" height="3.02" fill="#1488f0"/><rect x="375.15" y="378.56" width="28.61" height="3.02" fill="#0606cc"/><rect x="403.46" y="378.56" width="14.45" height="3.02" fill="#1488f0"/><rect x="417.62" y="378.56" width="28.61" height="3.02" fill="#1c40f0"/><rect x="445.93" y="378.56" width="14.45" height="3.02" fill="#0606cc"/><rect x="460.08" y="378.56" width="14.45" height="3.02" fill="#1488f0"/><rect x="474.24" y="378.56" width="42.76" height="3.02" fill="#0606cc"/><rect x="361.00" y="381.28" width="14.45" height="3.02" fill="#1c40f0"/><rect x="375.15" y="381.28" width="14.45" height="3.02" fill="#1488f0"/><rect x="389.31" y="381.28" width="14.45" height="3.02" fill="#0606cc"/><rect x="403.46" y="381.28" width="14.45" height="3.02" fill="#1488f0"/><rect x="417.62" y="381.28" width="14.45" height="3.02" fill="#1c40f0"/><rect x="431.77" y="381.28" width="14.45" height="3.02" fill="#1488f0"/><rect x="445.93" y="381.28" width="14.45" height="3.02" fill="#0606cc"/><rect x="460.08" y="381.28" width="14.45" height="3.02" fill="#1c40f0"/><rect x="474.24" y="381.28" width="14.45" height="3.02" fill="#0606cc"/><rect x="488.39" y="381.28" width="14.45" height="3.02" fill="#1488f0"/><rect x="502.55" y="381.28" width="14.45" height="3.02" fill="#0606cc"/><rect x="361.00" y="384.00" width="113.54" height="3.02" fill="#0606cc"/><rect x="474.24" y="384.00" width="14.45" height="3.02" fill="#1488f0"/><rect x="488.39" y="384.00" width="28.61" height="3.02" fill="#0606cc"/><rect x="361.00" y="386.72" width="56.92" height="3.02" fill="#0606cc"/><rect x="417.62" y="386.72" width="14.45" height="3.02" fill="#1488f0"/><rect x="431.77" y="386.72" width="42.76" height="3.02" fill="#1c40f0"/><rect x="474.24" y="386.72" width="42.76" height="3.02" fill="#0606cc"/><rect x="361.00" y="389.44" width="42.76" height="3.02" fill="#0606cc"/><rect x="403.46" y="389.44" width="42.76" height="3.02" fill="#1c40f0"/><rect x="445.93" y="389.44" width="71.07" height="3.02" fill="#0606cc"/><rect x="361.00" y="392.16" width="14.45" height="3.02" fill="#1c40f0"/><rect x="375.15" y="392.16" width="42.76" height="3.02" fill="#0606cc"/><rect x="417.62" y="392.16" width="14.45" height="3.02" fill="#1c40f0"/><rect x="431.77" y="392.16" width="42.76" height="3.02" fill="#0606cc"/><rect x="474.24" y="392.16" width="14.45" height="3.02" fill="#1488f0"/><rect x="488.39" y="392.16" width="28.61" height="3.02" fill="#0606cc"/><rect x="361.00" y="394.88" width="14.45" height="3.02" fill="#0606cc"/><rect x="375.15" y="394.88" width="28.61" height="3.02" fill="#1c40f0"/><rect x="403.46" y="394.88" width="14.45" height="3.02" fill="#1488f0"/><rect x="417.62" y="394.88" width="14.45" height="3.02" fill="#0606cc"/><rect x="431.77" y="394.88" width="28.61" height="3.02" fill="#1c40f0"/><rect x="460.08" y="394.88" width="14.45" height="3.02" fill="#000070"/><rect x="474.24" y="394.88" width="14.45" height="3.02" fill="#1488f0"/><rect x="488.39" y="394.88" width="28.61" height="3.02" fill="#0606cc"/><rect x="361.00" y="397.60" width="28.61" height="3.02" fill="#0606cc"/><rect x="389.31" y="397.60" width="14.45" height="3.02" fill="#1c40f0"/><rect x="403.46" y="397.60" width="14.45" height="3.02" fill="#1488f0"/><rect x="417.62" y="397.60" width="85.23" height="3.02" fill="#0606cc"/><rect x="502.55" y="397.60" width="14.45" height="3.02" fill="#000070"/><rect x="361.00" y="400.32" width="42.76" height="3.02" fill="#0606cc"/><rect x="403.46" y="400.32" width="14.45" height="3.02" fill="#1488f0"/><rect x="417.62" y="400.32" width="71.07" height="3.02" fill="#0606cc"/><rect x="488.39" y="400.32" width="14.45" height="3.02" fill="#1488f0"/><rect x="502.55" y="400.32" width="14.45" height="3.02" fill="#0606cc"/><rect x="361.00" y="403.04" width="14.45" height="3.02" fill="#0606cc"/><rect x="375.15" y="403.04" width="14.45" height="3.02" fill="#1488f0"/><rect x="389.31" y="403.04" width="14.45" height="3.02" fill="#0606cc"/><rect x="403.46" y="403.04" width="14.45" height="3.02" fill="#1488f0"/><rect x="417.62" y="403.04" width="14.45" height="3.02" fill="#1c40f0"/><rect x="431.77" y="403.04" width="56.92" height="3.02" fill="#0606cc"/><rect x="488.39" y="403.04" width="14.45" height="3.02" fill="#1488f0"/><rect x="502.55" y="403.04" width="14.45" height="3.02" fill="#0606cc"/><rect x="361.00" y="405.76" width="14.45" height="3.02" fill="#000070"/><rect x="375.15" y="405.76" width="113.54" height="3.02" fill="#0606cc"/><rect x="488.39" y="405.76" width="14.45" height="3.02" fill="#1488f0"/><rect x="502.55" y="405.76" width="14.45" height="3.02" fill="#0606cc"/><rect x="361.00" y="408.48" width="71.07" height="3.02" fill="#0606cc"/><rect x="431.77" y="408.48" width="14.45" height="3.02" fill="#1488f0"/><rect x="445.93" y="408.48" width="71.07" height="3.02" fill="#0606cc"/><rect x="361.00" y="411.20" width="156.00" height="3.02" fill="#0606cc"/><rect x="361.00" y="413.92" width="156.00" height="3.02" fill="#0606cc"/><rect x="361.00" y="416.64" width="156.00" height="3.02" fill="#0606cc"/><rect x="361.00" y="419.36" width="14.45" height="3.02" fill="#0606cc"/><rect x="375.15" y="419.36" width="14.45" height="3.02" fill="#1488f0"/><rect x="389.31" y="419.36" width="56.92" height="3.02" fill="#0606cc"/><rect x="445.93" y="419.36" width="14.45" height="3.02" fill="#1c40f0"/><rect x="460.08" y="419.36" width="14.45" height="3.02" fill="#0606cc"/><rect x="474.24" y="419.36" width="14.45" height="3.02" fill="#000070"/><rect x="488.39" y="419.36" width="28.61" height="3.02" fill="#1488f0"/><rect x="361.00" y="422.08" width="14.45" height="3.02" fill="#000070"/><rect x="375.15" y="422.08" width="28.61" height="3.02" fill="#0606cc"/><rect x="403.46" y="422.08" width="14.45" height="3.02" fill="#1488f0"/><rect x="417.62" y="422.08" width="71.07" height="3.02" fill="#0606cc"/><rect x="488.39" y="422.08" width="28.61" height="3.02" fill="#1488f0"/></g>
<defs><linearGradient id="cbg" x1="0" x2="1" y1="0" y2="0"><stop offset="0.0000" stop-color="#0800c8"/><stop offset="0.1058" stop-color="#0800c8"/><stop offset="0.1071" stop-color="#1058f0"/><stop offset="0.2308" stop-color="#1890f0"/><stop offset="0.4295" stop-color="#00e0f0"/><stop offset="0.5192" stop-color="#10f0a8"/><stop offset="0.5833" stop-color="#20f060"/><stop offset="0.7051" stop-color="#b8f020"/><stop offset="0.7821" stop-color="#f8c000"/><stop offset="0.8590" stop-color="#f88000"/><stop offset="0.9679" stop-color="#f81000"/><stop offset="1.0000" stop-color="#f80000"/></linearGradient></defs>
<rect x="364" y="442.8" width="156" height="20.7" fill="url(#cbg)"/>
<text x="364.3" y="479.3" font-family='"Liberation Mono", monospace' font-size="13.3" fill="#3a3a44">0.0</text>
<text x="478.2" y="479.3" font-family='"Liberation Mono", monospace' font-size="13.3" fill="#3a3a44">700.0</text>
<text x="0.67" y="503.9" font-size="14.6" font-weight="bold" fill="#111">D</text>
<g stroke="#000" stroke-width="1.5" fill="none"><path d="M45.2,515.9 H252 V617.8 H45.2 Z"/><line x1="42.0" y1="617.8" x2="45.2" y2="617.8"/><line x1="42.0" y1="597.4" x2="45.2" y2="597.4"/><line x1="42.0" y1="577.0" x2="45.2" y2="577.0"/><line x1="42.0" y1="556.7" x2="45.2" y2="556.7"/><line x1="42.0" y1="536.3" x2="45.2" y2="536.3"/><line x1="42.0" y1="515.9" x2="45.2" y2="515.9"/><line x1="45.2" y1="617.8" x2="45.2" y2="623.5999999999999"/><line x1="149" y1="617.8" x2="149" y2="623.5999999999999"/><line x1="252" y1="617.8" x2="252" y2="623.5999999999999"/></g><g font-size="10.9" fill="#111" text-anchor="middle"><text x="29.2" y="621.7">0</text><text x="29.2" y="601.3">200</text><text x="29.2" y="580.9">400</text><text x="29.2" y="560.6">600</text><text x="29.2" y="540.2">800</text><text x="29.2" y="519.8">1000</text></g><rect x="75.4" y="546.8" width="43.2" height="71.0" fill="#000"/><path d="M97.0,546.8 V540.1 M91.7,540.1 H102.3" stroke="#000" stroke-width="1.5" fill="none"/><rect x="178.8" y="597.9" width="43.2" height="19.9" fill="#000"/><path d="M200.4,597.9 V596.2 M195.1,596.2 H205.7" stroke="#000" stroke-width="1.5" fill="none"/><path d="M97.5,535.5 V526.8 H200 V535.5" stroke="#000" stroke-width="1.4" fill="none"/><text x="151.3" y="531.0" font-size="16.2" font-weight="bold" fill="#111" text-anchor="middle">***</text><text transform="translate(14.0,561.1) rotate(-90)" font-size="11.1" fill="#111" text-anchor="middle">IRF-7 signal</text><g font-size="11.35" fill="#111" text-anchor="middle"><text x="97" y="637.2">JAK1 mutated</text><text x="201.5" y="637.2">JAK1 wild-type</text><text x="94.1" y="654.0">n=3</text><text x="200.5" y="654.0">n=8</text></g>
<g stroke="#000" stroke-width="1.5" fill="none"><path d="M308,517.6 H513.8 V617.8 H308 Z"/><line x1="304.8" y1="617.8" x2="308" y2="617.8"/><line x1="304.8" y1="597.8" x2="308" y2="597.8"/><line x1="304.8" y1="577.7" x2="308" y2="577.7"/><line x1="304.8" y1="557.7" x2="308" y2="557.7"/><line x1="304.8" y1="537.6" x2="308" y2="537.6"/><line x1="304.8" y1="517.6" x2="308" y2="517.6"/><line x1="308" y1="617.8" x2="308" y2="623.5999999999999"/><line x1="410.2" y1="617.8" x2="410.2" y2="623.5999999999999"/><line x1="513.8" y1="617.8" x2="513.8" y2="623.5999999999999"/></g><g font-size="10.9" fill="#111" text-anchor="middle"><text x="288" y="621.7">0</text><text x="288" y="601.7">400</text><text x="288" y="581.6">800</text><text x="288" y="561.6">1200</text><text x="288" y="541.5">1600</text><text x="288" y="521.5">2000</text></g><rect x="337.8" y="550.1" width="43.2" height="67.7" fill="#000"/><path d="M359.4,550.1 V542.7 M354.1,542.7 H364.7" stroke="#000" stroke-width="1.5" fill="none"/><rect x="440.9" y="604.5" width="43.2" height="13.3" fill="#000"/><path d="M462.5,604.5 V601.8 M457.2,601.8 H467.8" stroke="#000" stroke-width="1.5" fill="none"/><path d="M359.8,537.6 V529.3 H462.7 V537.6" stroke="#000" stroke-width="1.4" fill="none"/><text x="412.2" y="532.8" font-size="16.2" font-weight="bold" fill="#111" text-anchor="middle">***</text><text transform="translate(270.1,562.5) rotate(-90)" font-size="11.1" fill="#111" text-anchor="middle">MX1 signal</text><g font-size="11.35" fill="#111" text-anchor="middle"><text x="361.2" y="634.9">JAK1 mutated</text><text x="462.7" y="634.9">JAK1 wild-type</text><text x="361.2" y="654.5">n=3</text><text x="463.8" y="654.5">n=8</text></g>
<text x="-0.65" y="668.7" font-size="14.6" font-weight="bold" fill="#111">E</text>
<g stroke="#000" stroke-width="1.5" fill="none"><path d="M45.1,677.8 H252 V778.8 H45.1 Z"/><line x1="41.9" y1="778.8" x2="45.1" y2="778.8"/><line x1="41.9" y1="758.6" x2="45.1" y2="758.6"/><line x1="41.9" y1="738.4" x2="45.1" y2="738.4"/><line x1="41.9" y1="718.2" x2="45.1" y2="718.2"/><line x1="41.9" y1="698.0" x2="45.1" y2="698.0"/><line x1="41.9" y1="677.8" x2="45.1" y2="677.8"/><line x1="45.1" y1="778.8" x2="45.1" y2="784.5999999999999"/><line x1="149" y1="778.8" x2="149" y2="784.5999999999999"/><line x1="252" y1="778.8" x2="252" y2="784.5999999999999"/></g><g font-size="10.9" fill="#111" text-anchor="middle"><text x="29.2" y="782.7">0</text><text x="29.2" y="762.5">10</text><text x="29.2" y="742.3">20</text><text x="29.2" y="722.1">30</text><text x="29.2" y="701.9">40</text><text x="29.2" y="681.7">50</text></g><rect x="75.4" y="728.0" width="43.2" height="50.8" fill="#000"/><path d="M97.0,728.0 V717.0 M91.7,717.0 H102.3" stroke="#000" stroke-width="1.5" fill="none"/><rect x="179.7" y="761.2" width="43.2" height="17.6" fill="#000"/><path d="M201.3,761.2 V755.6 M196.0,755.6 H206.6" stroke="#000" stroke-width="1.5" fill="none"/><path d="M97.5,705.5 V697 H198.75 V705.5" stroke="#000" stroke-width="1.4" fill="none"/><text x="148.1" y="698.7" font-size="16" font-weight="bold" fill="#111" text-anchor="middle">**</text><text transform="translate(15.4,727.3) rotate(-90)" font-size="11.3" fill="#111" text-anchor="middle">IRF-7/Actin (a.u.)</text><g font-size="11.35" fill="#111" text-anchor="middle"><text x="97.6" y="799.6">JAK1 mutated</text><text x="200.75" y="799.6">JAK1 wild-type</text><text x="97.25" y="816.9">n=6</text><text x="201.2" y="816.9">n=11</text></g>
<g stroke="#000" stroke-width="1.5" fill="none"><path d="M305.6,678.3 H514.1 V779.4 H305.6 Z"/><line x1="302.40000000000003" y1="779.4" x2="305.6" y2="779.4"/><line x1="302.40000000000003" y1="759.2" x2="305.6" y2="759.2"/><line x1="302.40000000000003" y1="739.0" x2="305.6" y2="739.0"/><line x1="302.40000000000003" y1="718.7" x2="305.6" y2="718.7"/><line x1="302.40000000000003" y1="698.5" x2="305.6" y2="698.5"/><line x1="302.40000000000003" y1="678.3" x2="305.6" y2="678.3"/><line x1="305.6" y1="779.4" x2="305.6" y2="785.1999999999999"/><line x1="410.4" y1="779.4" x2="410.4" y2="785.1999999999999"/><line x1="514.1" y1="779.4" x2="514.1" y2="785.1999999999999"/></g><g font-size="10.9" fill="#111" text-anchor="middle"><text x="292.5" y="783.3">0</text><text x="292.5" y="763.1">5</text><text x="292.5" y="742.9">10</text><text x="292.5" y="722.6">15</text><text x="292.5" y="702.4">20</text><text x="292.5" y="682.2">25</text></g><rect x="336.3" y="739.5" width="43.2" height="39.9" fill="#000"/><path d="M357.9,739.5 V724.6 M352.6,724.6 H363.2" stroke="#000" stroke-width="1.5" fill="none"/><rect x="441.6" y="770.4" width="43.2" height="9.0" fill="#000"/><path d="M463.2,770.4 V767.7 M457.9,767.7 H468.5" stroke="#000" stroke-width="1.5" fill="none"/><path d="M359.25,705.5 V697 H460.5 V705.5" stroke="#000" stroke-width="1.4" fill="none"/><text x="410.25" y="698.5" font-size="16" font-weight="bold" fill="#111" text-anchor="middle">*</text><text transform="translate(278.7,727.3) rotate(-90)" font-size="11.3" fill="#111" text-anchor="middle">MX1/Actin (a.u.)</text><g font-size="11.35" fill="#111" text-anchor="middle"><text x="360" y="799.6">JAK1 mutated</text><text x="463.45" y="799.6">JAK1 wild-type</text><text x="357.3" y="816.9">n=6</text><text x="464.35" y="816.9">n=11</text></g>
</svg>
</body></html>
